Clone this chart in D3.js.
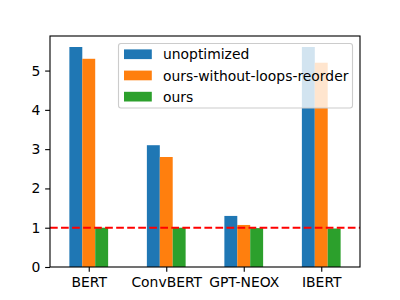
<!DOCTYPE html>
<html>
<head>
<meta charset="utf-8">
<script src="https://cdn.jsdelivr.net/npm/d3@7"></script>
<style>
  body { margin: 0; background: #fff; }
  text { font-family: "DejaVu Sans", sans-serif; }
</style>
</head>
<body>
<div id="chart"></div>
<script>
(function(){
    var width = 400,
        height = 300;

    // data
    var models = ["BERT", "ConvBERT", "GPT-NEOX", "IBERT"];
    var seriesNames = ["unoptimized", "ours-without-loops-reorder", "ours"];
    var unoptimized = [5.6, 3.1, 1.3, 5.6];
    var withoutReorder = [5.3, 2.8, 1.07, 5.2];
    var ours = [1.0, 1.0, 0.99, 0.98];
    var yTicks = [0, 1, 2, 3, 4, 5];
    var baseline = 1;
    var colors = ["#1f77b4", "#ff7f0e", "#2ca02c"];

    var series = [unoptimized, withoutReorder, ours];

    var left = 50, right = 360, top = 36, bottom = 267;
    var fs = 13.9;

    var svg = d3.select("#chart")
        .append("svg")
        .attr("width", width)
        .attr("height", height);

    var x = d3.scaleLinear().domain([-0.5, models.length - 0.5]).range([left, right]);
    var ymax = d3.max(series, function(s){ return d3.max(s) }) * 1.05;
    var y = d3.scaleLinear().domain([0, ymax]).range([bottom, top]);

    var barW = 0.5 / series.length;

    series.forEach(function(s, si){
        svg.append("g").selectAll("rect")
            .data(s)
            .enter().append("rect")
            .attr("x", function(d, i){ return x(i - 0.25 + si * barW) })
            .attr("width", function(){ return x(barW) - x(0) })
            .attr("y", function(d){ return y(d) })
            .attr("height", function(d){ return y(0) - y(d) })
            .attr("fill", colors[si]);
    });

    // baseline
    svg.append("line")
        .attr("x1", left).attr("x2", right)
        .attr("y1", y(baseline)).attr("y2", y(baseline))
        .attr("stroke", "red")
        .attr("stroke-width", 2.08)
        .attr("stroke-dasharray", "7.7,3.33");

    // axes
    var xAxis = d3.axisBottom(x)
        .tickValues(d3.range(models.length))
        .tickFormat(function(d){ return models[d] })
        .tickSize(4.86).tickPadding(4.86);
    var yAxis = d3.axisLeft(y)
        .tickValues(yTicks)
        .tickFormat(d3.format("d"))
        .tickSize(4.86).tickPadding(4.86);

    var gx = svg.append("g").attr("transform", "translate(0," + bottom + ")").call(xAxis);
    var gy = svg.append("g").attr("transform", "translate(" + left + ",0)").call(yAxis);
    [gx, gy].forEach(function(g){
        g.select(".domain").remove();
        g.selectAll("line").attr("stroke", "#000").attr("stroke-width", 1.11);
        g.selectAll("text").attr("fill", "#000").style("font-size", fs + "px")
            .style("font-family", "DejaVu Sans, sans-serif");
    });

    svg.append("rect")
        .attr("x", left).attr("y", top)
        .attr("width", right - left).attr("height", bottom - top)
        .attr("fill", "none").attr("stroke", "#000").attr("stroke-width", 1.11);

    // legend
    var lg = svg.append("g");
    lg.append("rect")
        .attr("x", 118.5).attr("y", 43.5)
        .attr("width", 234).attr("height", 64.5)
        .attr("rx", 2.5)
        .attr("fill", "#fff").attr("fill-opacity", 0.8)
        .attr("stroke", "#cccccc").attr("stroke-width", 1.11);

    seriesNames.forEach(function(name, i){
        var cy = 54.3 + i * 21.2;
        lg.append("rect")
            .attr("x", 124).attr("y", cy - 4.9)
            .attr("width", 27.8).attr("height", 9.7)
            .attr("fill", colors[i]);
        lg.append("text")
            .attr("x", 163).attr("y", cy)
            .attr("dy", "0.36em")
            .style("font-size", fs + "px")
            .attr("fill", "#000")
            .text(name);
    });
})();
</script>
</body>
</html>
